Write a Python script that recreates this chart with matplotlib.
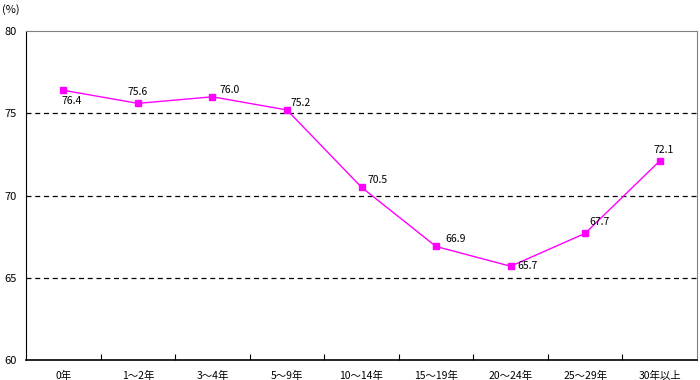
import matplotlib
matplotlib.use("Agg")
import matplotlib.pyplot as plt

plt.rcParams['font.family'] = ['Noto Sans CJK JP', 'DejaVu Sans']

categories = ["0年", "1～2年", "3～4年", "5～9年", "10～14年", "15～19年", "20～24年", "25～29年", "30年以上"]
values = [76.4, 75.6, 76.0, 75.2, 70.5, 66.9, 65.7, 67.7, 72.1]
yticks = [60, 65, 70, 75, 80]
# label offsets in pixels (dx, dy, ha, va)
label_pos = [(-2, -6, 'left', 'top'), (0, 6, 'center', 'bottom'), (7, 2, 'left', 'bottom'),
             (4, 2, 'left', 'bottom'), (6, 2, 'left', 'bottom'), (9, 2, 'left', 'bottom'),
             (7, 0, 'left', 'center'), (4, 6, 'left', 'bottom'), (4, 6, 'center', 'bottom')]

fig = plt.figure(figsize=(7, 3.8), dpi=100)
ax = fig.add_axes([26/700, 20/380, 671/700, 329/380])

x = list(range(len(categories)))
ax.plot(x, values, color='#FF00FF', linewidth=1, marker='s', markersize=4.5,
        markerfacecolor='#FF00FF', markeredgecolor='#FF00FF', zorder=3)
for xi, v, (dx, dy, ha, va) in zip(x, values, label_pos):
    ax.annotate(f"{v:.1f}", (xi, v), xytext=(dx, dy), textcoords='offset pixels',
                ha=ha, va=va, fontsize=7.5)

ax.set_xlim(-0.5, len(categories) - 0.5)
ax.set_ylim(60, 80)
ax.set_yticks(yticks)
ax.set_yticklabels([str(t) for t in yticks], fontsize=8)
for t in [65, 70, 75]:
    ax.axhline(t, color='black', linestyle=(0, (4, 3)), linewidth=0.9, zorder=1)

ax.set_xticks(x)
ax.set_xticklabels(categories, fontsize=7.5)
ax.set_xticks([i - 0.5 for i in range(1, len(categories))], minor=True)
ax.tick_params(axis='x', which='major', length=0, pad=8)
ax.tick_params(axis='x', which='minor', length=4, direction='in', width=0.8)
ax.tick_params(axis='y', length=0, pad=7)

ax.spines['left'].set_color('black')
ax.spines['bottom'].set_color('black')
ax.spines['bottom'].set_linewidth(1.2)
ax.spines['top'].set_color('#808080')
ax.spines['right'].set_color('#808080')

fig.text(2/700, 1 - 10/380, "(%)", fontsize=8, va='center', ha='left')

fig.savefig("out.png", dpi=100)
